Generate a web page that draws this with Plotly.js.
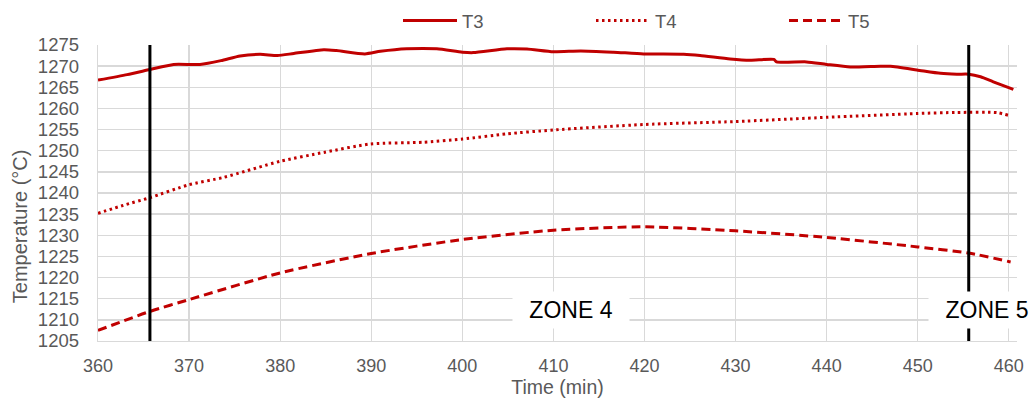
<!DOCTYPE html>
<html>
<head>
<meta charset="utf-8">
<script src="https://cdn.plot.ly/plotly-3.0.1.min.js"></script>
<style>html,body{margin:0;padding:0;background:#fff;}#chart{width:1034px;height:399px;}</style>
</head>
<body>
<div id="chart"></div>
<script>
// Time (min) and temperature (°C) readings
const t3Time = [360, 363.2, 365.7, 368.3, 371.2, 373.5, 375.6, 377.8, 379.7, 381.5, 384.8, 386.2, 389.3, 391.0, 393.9, 397.2, 400.0, 401.2, 404.9, 407.1, 410.0, 413.0, 416.6, 419.9, 424.3, 426.1, 429.4, 431.6, 434.2, 434.5, 437.8, 440.0, 442.6, 445.9, 447.0, 449.9, 452.5, 454.3, 455.6, 456.9, 458.3, 460.5];
const t3Temp = [1266.7, 1268.0, 1269.2, 1270.4, 1270.4, 1271.3, 1272.4, 1272.8, 1272.5, 1273.0, 1273.9, 1273.7, 1272.9, 1273.5, 1274.1, 1274.1, 1273.3, 1273.2, 1274.1, 1274.05, 1273.4, 1273.6, 1273.3, 1272.9, 1272.8, 1272.5, 1271.7, 1271.4, 1271.6, 1271.0, 1271.0, 1270.4, 1269.8, 1270.0, 1269.95, 1269.1, 1268.3, 1268.1, 1268.1, 1267.5, 1266.3, 1264.5];

const t4Time = [360, 362.8, 365.7, 369.9, 373.8, 380.0, 384.8, 389.9, 395.7, 400.0, 404.9, 410.0, 419.9, 430.0, 440.0, 449.9, 454.3, 458.7, 460.0];
const t4Temp = [1235.2, 1237.1, 1238.9, 1241.9, 1243.7, 1247.5, 1249.6, 1251.6, 1252.0, 1252.75, 1254.0, 1254.9, 1256.2, 1256.9, 1257.9, 1258.8, 1259.05, 1259.0, 1258.35];

const t5Time = [360, 365.7, 370, 380, 390, 400, 410, 420, 430, 440, 450, 455.6, 460.2];
const t5Temp = [1207.5, 1212.0, 1214.8, 1221.1, 1225.7, 1229.0, 1231.2, 1232.0, 1231.05, 1229.5, 1227.25, 1225.8, 1223.7];

const seriesNames = ['T3', 'T4', 'T5'];
const zoneBoundaries = [365.7, 455.6];
const zoneLabels = ['ZONE 4', 'ZONE 5'];
const zoneLabelPos = [[411.9, 1212.4], [457.6, 1212.4]];

const red = '#C00000';
const gray = '#595959';
const font = 'Liberation Sans, Arial, sans-serif';

const traces = [
  {x: t3Time, y: t3Temp, name: seriesNames[0], mode: 'lines', line: {color: red, width: 3, shape: 'spline', smoothing: 0.6}},
  {x: t4Time, y: t4Temp, name: seriesNames[1], mode: 'lines', line: {color: red, width: 3, dash: '2.5px,3.5px', shape: 'spline', smoothing: 0.6}},
  {x: t5Time, y: t5Temp, name: seriesNames[2], mode: 'lines', line: {color: red, width: 3, dash: '9px,5px', shape: 'spline', smoothing: 0.6}}
];

zoneBoundaries.forEach(b => {
  traces.push({x: [b, b], y: [1205, 1275], mode: 'lines', showlegend: false, hoverinfo: 'skip', line: {color: '#000', width: 3}});
});

const annotations = zoneLabels.map((txt, i) => ({
  x: zoneLabelPos[i][0], y: zoneLabelPos[i][1], xref: 'x', yref: 'y',
  text: txt, showarrow: false, bgcolor: '#fff', width: 116, height: 36, borderpad: 0,
  font: {family: font, size: 23, color: '#000'}
}));

annotations.push({
  xref: 'paper', yref: 'paper', x: (20 - 98) / 919, y: (340.7 - 226) / 295.7,
  xanchor: 'center', yanchor: 'middle',
  text: 'Temperature (°C)', textangle: -90, showarrow: false,
  font: {family: font, size: 20, color: gray}
});

const layout = {
  width: 1034, height: 399,
  margin: {l: 98, r: 17, t: 45, b: 58, autoexpand: false},
  paper_bgcolor: '#fff', plot_bgcolor: '#fff',
  font: {family: font, size: 18, color: gray},
  showlegend: true,
  legend: {orientation: 'h', x: (398 - 98) / 919, xanchor: 'left', y: (340.7 - 21) / 295.7, yanchor: 'middle',
           entrywidth: 124, entrywidthmode: 'pixels', itemwidth: 54, font: {family: font, size: 18.5, color: gray}, bgcolor: 'rgba(0,0,0,0)'},
  xaxis: {range: [360, 460.9], tick0: 360, dtick: 10, showgrid: true, gridcolor: '#d9d9d9', gridwidth: 1.3,
          showline: true, linecolor: '#d9d9d9', linewidth: 1.3, zeroline: false, ticks: '', automargin: false,
          ticklabelstandoff: 8, tickfont: {family: font, size: 18, color: gray},
          title: {text: 'Time (min)', font: {family: font, size: 19.5, color: gray}, standoff: 2}},
  yaxis: {range: [1205, 1275], tick0: 1205, dtick: 5, showgrid: true, gridcolor: '#d9d9d9', gridwidth: 1.3,
          showline: true, linecolor: '#d9d9d9', linewidth: 1.3, zeroline: false, ticks: '', automargin: false,
          ticklabelstandoff: 14, tickfont: {family: font, size: 18.5, color: gray}},
  annotations: annotations
};

Plotly.newPlot('chart', traces, layout, {staticPlot: true, displayModeBar: false});
</script>
</body>
</html>
